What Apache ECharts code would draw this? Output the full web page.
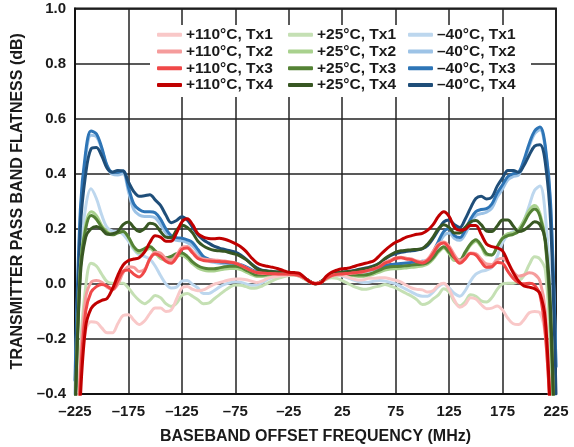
<!DOCTYPE html>
<html><head><meta charset="utf-8">
<script src="https://cdn.jsdelivr.net/npm/echarts@6/dist/echarts.min.js"></script>
<style>html,body{margin:0;padding:0;background:#fff}#c{width:574px;height:447px}</style>
</head><body><div id="c"></div>
<script>
// Baseband offset frequency (MHz)
const freq = [-225,-220,-215,-210,-205,-200,-195,-190,-185,-180,
-175,-170,-165,-160,-155,-150,-145,-140,-135,-130,
-125,-120,-115,-110,-105,-100,-95,-90,-85,-80,
-75,-70,-65,-60,-55,-50,-45,-40,-35,-30,
-25,-20,-15,-10,-5,0,5,10,15,20,
25,30,35,40,45,50,55,60,65,70,
75,80,85,90,95,100,105,110,115,120,
125,130,135,140,145,150,155,160,165,170,
175,180,185,190,195,200,205,210,215,220,
225];

const xTickValues = [-225,-175,-125,-75,-25,25,75,125,175,225];
const yTickValues = [-0.4,-0.2,0,0.2,0.4,0.6,0.8,1.0];

// +110°C
const p110_tx1 = [-1.0,-0.3,-0.17,-0.138,-0.14,-0.16,-0.178,-0.178,-0.145,-0.115,
-0.112,-0.132,-0.148,-0.135,-0.108,-0.088,-0.088,-0.1,-0.095,-0.055,
-0.015,-0.01,-0.02,-0.025,-0.022,-0.012,-0.002,0.004,0.01,0.015,
0.018,0.018,0.015,0.01,0.005,0.01,0.02,0.025,0.028,0.03,
0.032,0.033,0.028,0.018,0.006,0.0,0.006,0.02,0.028,0.032,
0.03,0.025,0.018,0.014,0.015,0.02,0.02,0.022,0.022,0.018,
0.013,0.006,-0.005,-0.015,-0.02,-0.022,-0.03,-0.025,-0.005,0.002,
-0.02,-0.06,-0.085,-0.075,-0.05,-0.055,-0.075,-0.09,-0.088,-0.08,
-0.095,-0.125,-0.145,-0.148,-0.13,-0.105,-0.1,-0.105,-0.19,-0.5,
-1.0];
const p110_tx2 = [-1.0,-0.3,-0.05,0.005,0.012,0.006,-0.012,-0.022,-0.002,0.04,
0.062,0.06,0.045,0.052,0.09,0.115,0.112,0.092,0.085,0.105,
0.132,0.136,0.118,0.098,0.09,0.088,0.087,0.085,0.083,0.08,
0.076,0.068,0.058,0.049,0.041,0.038,0.037,0.036,0.035,0.035,
0.034,0.033,0.029,0.019,0.007,0.001,0.005,0.019,0.029,0.034,
0.035,0.037,0.039,0.041,0.044,0.049,0.055,0.064,0.078,0.086,
0.094,0.097,0.093,0.09,0.083,0.08,0.09,0.118,0.145,0.152,
0.137,0.105,0.085,0.095,0.112,0.11,0.09,0.072,0.07,0.087,
0.093,0.075,0.045,0.028,0.032,0.04,0.035,0.01,-0.1,-0.5,
-1.0];
const p110_tx3 = [-1.0,-0.35,-0.1,-0.03,-0.01,-0.002,-0.008,-0.02,0.01,0.045,
0.05,0.035,0.025,0.045,0.09,0.108,0.1,0.082,0.075,0.095,
0.125,0.13,0.112,0.092,0.085,0.083,0.082,0.081,0.08,0.078,
0.075,0.067,0.058,0.048,0.041,0.039,0.038,0.037,0.036,0.036,
0.035,0.034,0.03,0.02,0.008,0.002,0.005,0.02,0.03,0.035,
0.036,0.038,0.04,0.042,0.045,0.05,0.055,0.062,0.075,0.082,
0.092,0.095,0.09,0.088,0.08,0.076,0.085,0.11,0.14,0.148,
0.13,0.095,0.075,0.09,0.11,0.105,0.08,0.06,0.062,0.078,
0.075,0.045,0.02,0.005,0.0,0.002,-0.005,-0.04,-0.18,-0.5,
-1.0];
const p110_tx4 = [-1.0,-0.42,-0.155,-0.09,-0.07,-0.06,-0.053,-0.018,0.03,0.068,
0.085,0.09,0.095,0.115,0.15,0.175,0.17,0.155,0.155,0.185,
0.225,0.236,0.215,0.182,0.17,0.165,0.164,0.166,0.162,0.155,
0.146,0.135,0.118,0.095,0.077,0.068,0.064,0.06,0.055,0.048,
0.042,0.041,0.038,0.022,0.006,0.0,0.003,0.027,0.042,0.05,
0.055,0.057,0.062,0.068,0.073,0.078,0.085,0.103,0.122,0.138,
0.151,0.16,0.17,0.175,0.18,0.183,0.195,0.215,0.245,0.262,
0.245,0.205,0.195,0.198,0.212,0.212,0.18,0.145,0.135,0.131,
0.12,0.08,0.04,0.01,-0.008,-0.012,-0.018,-0.035,-0.13,-0.5,
-1.0];

// +25°C
const p25_tx1 = [-1.0,-0.25,-0.01,0.075,0.065,0.035,0.008,0.002,0.002,0.002,
-0.015,-0.04,-0.06,-0.072,-0.06,-0.042,-0.05,-0.072,-0.082,-0.07,
-0.042,-0.035,-0.045,-0.058,-0.072,-0.07,-0.055,-0.04,-0.025,-0.012,
-0.004,-0.005,-0.01,-0.016,-0.015,-0.008,0.002,0.012,0.02,0.026,
0.03,0.031,0.027,0.017,0.006,0.0,0.005,0.016,0.022,0.02,
0.012,0.002,-0.008,-0.015,-0.02,-0.018,-0.012,-0.008,-0.002,-0.008,
-0.015,-0.025,-0.035,-0.045,-0.058,-0.075,-0.07,-0.055,-0.04,-0.018,
-0.03,-0.065,-0.08,-0.065,-0.04,-0.045,-0.062,-0.066,-0.05,-0.02,
0.0,0.002,0.002,0.01,0.03,0.07,0.098,0.09,0.05,-0.25,
-1.0];
const p25_tx2 = [-0.5,0.06,0.215,0.262,0.248,0.212,0.19,0.18,0.185,0.19,
0.168,0.13,0.113,0.12,0.128,0.112,0.092,0.087,0.092,0.102,
0.104,0.092,0.073,0.058,0.05,0.047,0.047,0.05,0.054,0.056,
0.056,0.052,0.043,0.034,0.027,0.027,0.03,0.032,0.034,0.035,
0.035,0.033,0.028,0.018,0.007,0.0,0.006,0.018,0.028,0.031,
0.031,0.03,0.029,0.027,0.027,0.03,0.036,0.043,0.05,0.054,
0.055,0.056,0.058,0.06,0.062,0.065,0.072,0.09,0.115,0.13,
0.11,0.085,0.085,0.11,0.14,0.155,0.135,0.105,0.105,0.135,
0.168,0.182,0.185,0.198,0.23,0.268,0.285,0.255,0.16,-0.1,
-0.8];
const p25_tx3 = [-0.5,0.05,0.2,0.248,0.235,0.205,0.185,0.178,0.185,0.19,
0.17,0.135,0.12,0.128,0.136,0.12,0.1,0.095,0.1,0.11,
0.112,0.1,0.08,0.066,0.058,0.055,0.055,0.058,0.062,0.064,
0.064,0.06,0.05,0.04,0.032,0.032,0.034,0.036,0.037,0.038,
0.037,0.035,0.03,0.02,0.008,0.0,0.007,0.02,0.03,0.034,
0.034,0.034,0.033,0.032,0.032,0.035,0.042,0.05,0.058,0.062,
0.063,0.064,0.066,0.068,0.07,0.072,0.078,0.095,0.12,0.135,
0.115,0.095,0.087,0.115,0.145,0.16,0.14,0.11,0.105,0.135,
0.165,0.175,0.18,0.19,0.22,0.255,0.272,0.245,0.15,-0.15,
-0.8];
const p25_tx4 = [-0.5,0.03,0.17,0.2,0.208,0.198,0.18,0.182,0.19,0.215,
0.225,0.205,0.19,0.2,0.22,0.215,0.19,0.17,0.168,0.195,
0.213,0.205,0.185,0.155,0.138,0.128,0.122,0.12,0.118,0.113,
0.108,0.1,0.088,0.072,0.055,0.048,0.046,0.044,0.043,0.042,
0.04,0.038,0.032,0.02,0.008,0.0,0.008,0.022,0.034,0.04,
0.042,0.044,0.046,0.05,0.054,0.058,0.064,0.075,0.092,0.105,
0.115,0.12,0.122,0.124,0.125,0.128,0.145,0.17,0.2,0.215,
0.205,0.185,0.185,0.205,0.225,0.23,0.215,0.192,0.19,0.21,
0.232,0.232,0.21,0.19,0.195,0.21,0.226,0.215,0.16,-0.1,
-0.8];

// -40°C
const m40_tx1 = [-0.5,0.1,0.28,0.345,0.31,0.25,0.205,0.192,0.19,0.18,
0.155,0.125,0.105,0.1,0.09,0.065,0.03,0.0,-0.015,-0.012,
0.01,0.012,-0.002,-0.015,-0.035,-0.035,-0.025,-0.012,-0.002,0.004,
0.008,0.006,0.0,-0.005,-0.005,0.004,0.016,0.024,0.028,0.031,
0.033,0.033,0.028,0.018,0.006,0.0,0.006,0.02,0.028,0.03,
0.028,0.022,0.015,0.008,0.005,0.006,0.01,0.012,0.01,0.005,
0.0,-0.01,-0.02,-0.03,-0.04,-0.045,-0.045,-0.03,-0.01,0.0,
-0.015,-0.035,-0.045,-0.025,0.01,0.035,0.045,0.05,0.06,0.1,
0.15,0.178,0.19,0.196,0.23,0.285,0.34,0.355,0.25,-0.05,
-0.6];
const m40_tx2 = [-0.4,0.24,0.46,0.54,0.535,0.49,0.425,0.398,0.395,0.4,
0.335,0.27,0.25,0.245,0.245,0.24,0.215,0.185,0.165,0.158,
0.156,0.15,0.138,0.115,0.093,0.083,0.078,0.075,0.073,0.071,
0.069,0.065,0.058,0.049,0.042,0.04,0.039,0.039,0.038,0.038,
0.037,0.035,0.029,0.019,0.007,0.0,0.006,0.019,0.029,0.035,
0.037,0.038,0.039,0.041,0.043,0.047,0.052,0.056,0.061,0.065,
0.067,0.069,0.071,0.073,0.075,0.077,0.08,0.105,0.14,0.175,
0.185,0.165,0.158,0.18,0.22,0.248,0.255,0.26,0.275,0.315,
0.345,0.378,0.39,0.395,0.44,0.5,0.545,0.56,0.49,0.27,
-0.3];
const m40_tx3 = [-0.35,0.27,0.48,0.555,0.545,0.495,0.43,0.405,0.405,0.41,
0.35,0.29,0.27,0.262,0.262,0.258,0.235,0.2,0.175,0.168,
0.166,0.16,0.15,0.125,0.1,0.09,0.084,0.08,0.078,0.076,
0.074,0.07,0.062,0.052,0.044,0.042,0.041,0.04,0.04,0.039,
0.038,0.036,0.03,0.02,0.008,0.0,0.007,0.02,0.03,0.036,
0.038,0.04,0.041,0.043,0.046,0.05,0.055,0.06,0.066,0.07,
0.072,0.074,0.076,0.078,0.08,0.082,0.085,0.115,0.154,0.19,
0.2,0.175,0.168,0.195,0.235,0.262,0.27,0.273,0.29,0.33,
0.36,0.39,0.4,0.405,0.45,0.51,0.555,0.57,0.5,0.29,
-0.3];
const m40_tx4 = [-0.5,0.2,0.4,0.49,0.495,0.465,0.42,0.405,0.412,0.41,
0.37,0.335,0.318,0.32,0.324,0.305,0.285,0.25,0.222,0.23,
0.244,0.232,0.205,0.178,0.16,0.148,0.137,0.13,0.125,0.12,
0.115,0.105,0.09,0.072,0.058,0.05,0.047,0.045,0.043,0.042,
0.041,0.039,0.033,0.021,0.008,0.0,0.008,0.022,0.034,0.04,
0.042,0.045,0.048,0.052,0.056,0.06,0.066,0.076,0.09,0.102,
0.11,0.115,0.118,0.12,0.123,0.128,0.14,0.165,0.196,0.225,
0.232,0.215,0.205,0.235,0.275,0.31,0.318,0.308,0.315,0.355,
0.385,0.412,0.412,0.405,0.43,0.468,0.5,0.505,0.44,0.22,
-0.4];

const legendCols = [
  ['+110°C, Tx1','+110°C, Tx2','+110°C, Tx3','+110°C, Tx4'],
  ['+25°C, Tx1','+25°C, Tx2','+25°C, Tx3','+25°C, Tx4'],
  ['–40°C, Tx1','–40°C, Tx2','–40°C, Tx3','–40°C, Tx4']
];

const seriesDefs = [
  {name:'–40°C, Tx1', color:'#BDD7EE', data:m40_tx1},
  {name:'–40°C, Tx2', color:'#9DC3E6', data:m40_tx2},
  {name:'–40°C, Tx3', color:'#2E75B6', data:m40_tx3},
  {name:'–40°C, Tx4', color:'#1F4E79', data:m40_tx4},
  {name:'+25°C, Tx1', color:'#C5E0B4', data:p25_tx1},
  {name:'+25°C, Tx2', color:'#A9D18E', data:p25_tx2},
  {name:'+25°C, Tx3', color:'#548235', data:p25_tx3},
  {name:'+25°C, Tx4', color:'#385723', data:p25_tx4},
  {name:'+110°C, Tx1', color:'#F9C8C8', data:p110_tx1},
  {name:'+110°C, Tx2', color:'#F59C9C', data:p110_tx2},
  {name:'+110°C, Tx3', color:'#F04848', data:p110_tx3},
  {name:'+110°C, Tx4', color:'#C00000', data:p110_tx4}
];

const FONT = '"Liberation Sans", Arial, sans-serif';
const TXT = '#1a1a1a';
const dash = v => (v < 0 ? '–' : '') + Math.abs(v);

const chart = echarts.init(document.getElementById('c'), null, {renderer:'canvas'});
chart.setOption({
  animation: false,
  backgroundColor: '#fff',
  grid: {left:75, right:18, top:8.5, bottom:53, show:true, borderColor:'#111', borderWidth:1.8, outerBoundsMode:'none', containLabel:false},
  xAxis: {
    type:'value', min:-225, max:225, interval:50,
    name:'BASEBAND OFFSET FREQUENCY (MHz)', nameLocation:'middle', nameGap:35,
    nameTextStyle:{fontFamily:FONT, fontWeight:'bold', fontSize:16, color:TXT},
    axisLine:{show:true, onZero:false, lineStyle:{color:'#111', width:1.8}},
    axisTick:{show:false},
    axisLabel:{margin:10, fontFamily:FONT, fontWeight:'bold', fontSize:15, color:TXT, formatter:v => dash(v)},
    splitLine:{show:true, lineStyle:{color:'#222', width:1.5}}
  },
  yAxis: {
    type:'value', min:-0.4, max:1.0, interval:0.2,
    name:'TRANSMITTER PASS BAND FLATNESS (dB)', nameLocation:'middle', nameGap:45, nameRotate:90,
    nameTextStyle:{fontFamily:FONT, fontWeight:'bold', fontSize:16, color:TXT},
    axisLine:{show:true, onZero:false, lineStyle:{color:'#111', width:1.8}},
    axisTick:{show:false},
    axisLabel:{margin:9, fontFamily:FONT, fontWeight:'bold', fontSize:15, color:TXT,
      formatter:v => (v < 0 ? '–' : '') + Math.abs(v).toFixed(1)},
    splitLine:{show:true, lineStyle:{color:'#222', width:1.5}}
  },
  graphic: [{type:'rect', left:150, top:25, shape:{width:381, height:72}, style:{fill:'#fff'}, z:3}],
  legend: legendCols.map((names, i) => ({
    left:[157,288,408][i], top:26.5, orient:'vertical', itemGap:0, padding:0,
    itemWidth:25, itemHeight:4, icon:'roundRect', selectedMode:false, z:10,
    data:names,
    textStyle:{fontFamily:FONT, fontWeight:'bold', fontSize:15.5, color:TXT, lineHeight:16.7, padding:[0,0,0,-1]}
  })),
  series: seriesDefs.map(s => ({
    name:s.name, type:'line', smooth:0.35, showSymbol:false, symbol:'none',
    data: freq.map((f, i) => [f, s.data[i]]),
    itemStyle:{color:s.color},
    lineStyle:{color:s.color, width:3, join:'round', cap:'round'},
    emphasis:{disabled:true}, clip:true, z:2
  }))
});
</script></body></html>
